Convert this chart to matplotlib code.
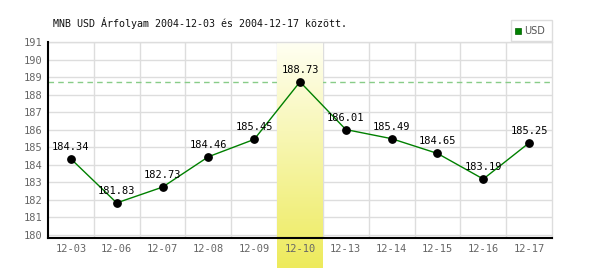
import numpy as np
import matplotlib
matplotlib.use("Agg")
import matplotlib.pyplot as plt
from matplotlib.patches import Rectangle

dates = ["12-03", "12-06", "12-07", "12-08", "12-09", "12-10",
         "12-13", "12-14", "12-15", "12-16", "12-17"]
values = [184.34, 181.83, 182.73, 184.46, 185.45, 188.73,
          186.01, 185.49, 184.65, 183.19, 185.25]
highlight = "12-10"
title = "MNB USD Árfolyam 2004-12-03 és 2004-12-17 között."
series_name = "USD"
y_ticks = list(range(180, 192))

W, H = 600, 270
fig = plt.figure(figsize=(W / 100, H / 100), dpi=100)
L, R, T, B = 48, 552, 42, 238
ax = fig.add_axes([L / W, 1 - B / H, (R - L) / W, (B - T) / H])

mono = "DejaVu Sans Mono"
x = np.arange(len(dates))
ylo, yhi = 179.83, 191
ax.set_xlim(-0.5, len(dates) - 0.5)
ax.set_ylim(ylo, yhi)

# grid
for yv in y_ticks:
    ax.axhline(yv, color="#dddddd", lw=1, zorder=1)
for xv in np.arange(0.5, len(dates) - 0.5, 1):
    ax.axvline(xv, color="#dddddd", lw=1, zorder=1)

# max dashed line
ax.axhline(max(values), color="#88cc88", lw=1, ls=(0, (4, 3)), zorder=1.1)

# highlight gradient band (extends below the axis)
hi = dates.index(highlight)
ext_bottom = ylo - (268 - B) / (B - T) * (yhi - ylo)
grad = np.linspace(0, 1, 256).reshape(-1, 1)
top_c = np.array([1.0, 1.0, 0.95])
bot_c = np.array([0.93, 0.92, 0.36])
img = top_c[None, None, :] * (1 - grad[..., None]) + bot_c[None, None, :] * grad[..., None]
ax.imshow(img, extent=(hi - 0.5, hi + 0.5, ext_bottom, yhi), aspect="auto",
          origin="upper", zorder=1.2, clip_on=False)
ax.set_xlim(-0.5, len(dates) - 0.5)
ax.set_ylim(ylo, yhi)

# series
ax.plot(x, values, color="#008000", lw=1, zorder=4)
ax.scatter(x, values, s=28, color="black", zorder=5)
for xi, v in zip(x, values):
    ax.annotate(f"{v:.2f}", (xi, v), xytext=(0, 5), textcoords="offset points",
                ha="center", va="bottom", fontsize=7.5, family=mono,
                color="black", zorder=6)

ax.set_xticks(x)
ax.set_xticklabels(dates)
ax.set_yticks(y_ticks)
ax.tick_params(length=0, labelsize=7.5, labelcolor="#666666", pad=4)
for lab in ax.get_xticklabels() + ax.get_yticklabels():
    lab.set_family(mono)
ax.tick_params(axis="x", pad=4.5)
ax.xaxis.set_zorder(1.5)
ax.yaxis.set_zorder(1.5)

for s in ["top", "right"]:
    ax.spines[s].set_color("#dddddd")
    ax.spines[s].set_linewidth(1)
for s in ["left", "bottom"]:
    ax.spines[s].set_color("black")
    ax.spines[s].set_linewidth(1.5)
    ax.spines[s].set_zorder(7)

# title
fig.text(53 / W, 1 - 23 / H, title, family=mono, fontsize=7.2,
         color="#111111", ha="left", va="center")

# legend
fig.patches.append(Rectangle((511 / W, 1 - 41 / H), 41 / W, 21 / H,
                             transform=fig.transFigure, facecolor="white",
                             edgecolor="#dddddd", lw=1))
fig.patches.append(Rectangle((515 / W, 1 - 34 / H), 6 / W, 6 / H,
                             transform=fig.transFigure, facecolor="#008000",
                             edgecolor="#006000", lw=0.5))
fig.text(524 / W, 1 - 31 / H, series_name, fontsize=7, color="#555555",
         ha="left", va="center")

fig.savefig("out.png", dpi=100)
